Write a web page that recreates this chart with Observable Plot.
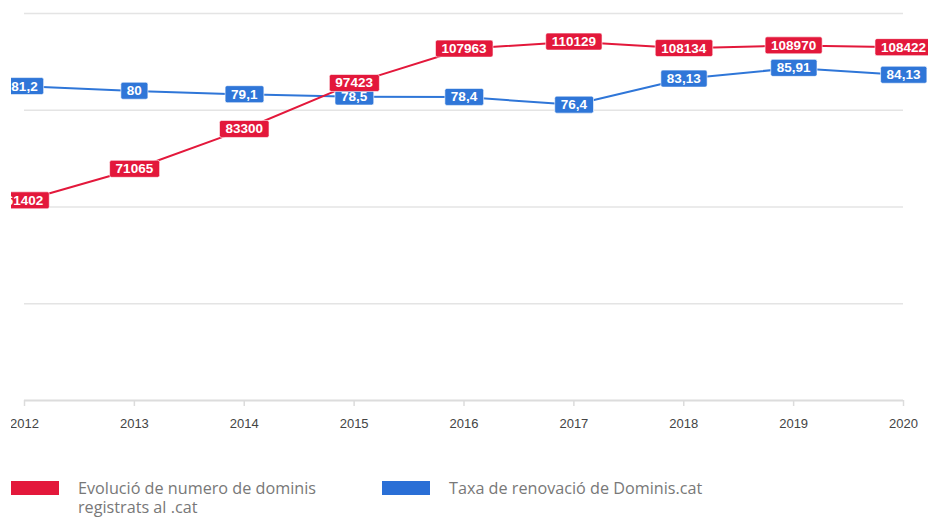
<!DOCTYPE html>
<html>
<head>
<meta charset="utf-8">
<script src="https://cdn.jsdelivr.net/npm/d3@7"></script>
<script src="https://cdn.jsdelivr.net/npm/@observablehq/plot@0.6"></script>
<style>
  html, body { margin: 0; padding: 0; background: #fff; width: 928px; height: 517px; overflow: hidden; }
  #chart { position: absolute; left: 11px; top: 0; width: 917px; height: 440px; overflow: hidden; }
  #chart svg { overflow: hidden; }
  .legend { position: absolute; top: 481px; font-family: "Open Sans", sans-serif; font-size: 16.2px; color: #787878; line-height: 19px; }
  .legend .sw { position: absolute; left: 0; top: 0; width: 48px; height: 14px; }
  .legend .tx { position: absolute; top: -2px; }
</style>
</head>
<body>
<div id="chart"></div>
<div class="legend" style="left:11px;">
  <div class="sw" style="background:#e3183b"></div>
  <div class="tx" style="left:67px; width:270px;">Evolució de numero de dominis registrats al .cat</div>
</div>
<div class="legend" style="left:382px;">
  <div class="sw" style="background:#2a6fd6"></div>
  <div class="tx" style="left:67px; width:330px;">Taxa de renovació de Dominis.cat</div>
</div>
<script>
const years = [2012, 2013, 2014, 2015, 2016, 2017, 2018, 2019, 2020];
const dominis = [61402, 71065, 83300, 97423, 107963, 110129, 108134, 108970, 108422];
const renovacio = [81.2, 80, 79.1, 78.5, 78.4, 76.4, 83.13, 85.91, 84.13];

// axis maxima for the two independent vertical scales (share one pixel range)
const dominisMax = 118800;
const renovacioMax = 100;

const RED = "#e3183b", BLUE = "#2f76d8";

const redData = years.map((y, i) => ({year: y, v: dominis[i] / dominisMax, label: String(dominis[i])}));
const blueData = years.map((y, i) => ({year: y, v: renovacio[i] / renovacioMax, label: String(renovacio[i]).replace(".", ",")}));

const chart = Plot.plot({
  width: 917,
  height: 440,
  marginLeft: 13,
  marginRight: 25,
  marginTop: 13,
  marginBottom: 40,
  style: {background: "#fff", fontFamily: "'Liberation Sans', Arial, sans-serif", fontSize: "13px"},
  x: {type: "linear", domain: [2012, 2020], label: null},
  y: {domain: [0, 1], axis: null},
  marks: [
    Plot.ruleY([0.25, 0.5, 0.75, 1], {stroke: "#e4e4e4", strokeWidth: 1.3}),
    Plot.axisX({ticks: years, tickFormat: d => String(d), tickSize: 6, tickPadding: 12, stroke: "#dcdcdc", strokeWidth: 1.5, fill: "#444", fontSize: 13, label: null}),
    Plot.ruleY([0], {stroke: "#dcdcdc", strokeWidth: 2}),
    Plot.line(blueData, {x: "year", y: "v", stroke: BLUE, strokeWidth: 2}),
    Plot.line(redData, {x: "year", y: "v", stroke: RED, strokeWidth: 2}),
    Plot.text(blueData, {x: "year", y: "v", text: "label", fill: "#fff", fontSize: 13.5, fontWeight: "bold"}),
    Plot.text(redData, {x: "year", y: "v", text: "label", fill: "#fff", fontSize: 13.5, fontWeight: "bold"})
  ]
});

document.getElementById("chart").appendChild(chart);

// label boxes behind each text (first text mark = blue, second = red)
const textGroups = Array.from(chart.querySelectorAll("g")).filter(g =>
  g.getAttribute("aria-label") === "text" && g.querySelector(":scope > text"));
const colors = [BLUE, RED];
textGroups.forEach((g, gi) => {
  g.querySelectorAll(":scope > text").forEach(t => {
    const b = t.getBBox();
    const cy = b.y + b.height / 2;
    const r = document.createElementNS("http://www.w3.org/2000/svg", "rect");
    r.setAttribute("x", b.x - 6);
    r.setAttribute("y", cy - 8.5);
    r.setAttribute("width", b.width + 12);
    r.setAttribute("height", 17);
    r.setAttribute("rx", 2);
    r.setAttribute("fill", colors[gi] || RED);
    r.setAttribute("stroke", "rgba(255,255,255,0.6)");
    r.setAttribute("stroke-width", 1);
    if (t.getAttribute("transform")) r.setAttribute("transform", t.getAttribute("transform"));
    g.insertBefore(r, t);
  });
});
</script>
</body>
</html>
